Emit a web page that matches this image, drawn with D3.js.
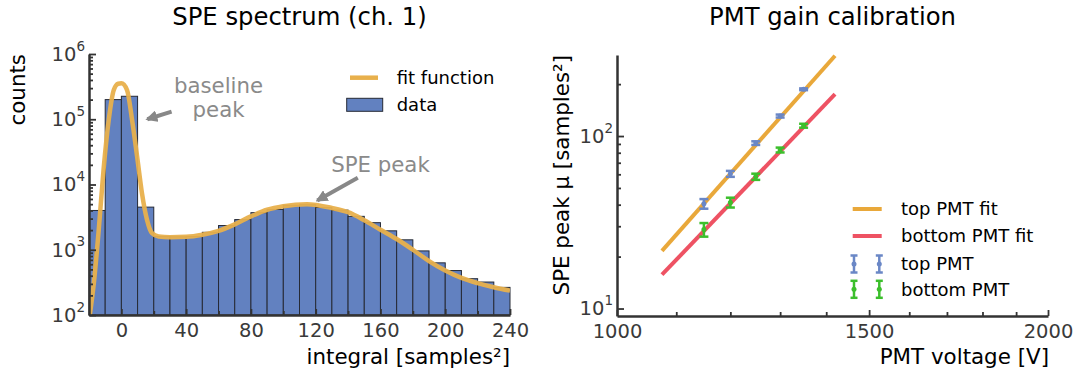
<!DOCTYPE html>
<html>
<head>
<meta charset="utf-8">
<script src="https://cdn.jsdelivr.net/npm/d3@7"></script>
<style>
body { margin: 0; background: #fff; }
text { font-family: "DejaVu Sans", sans-serif; }
</style>
</head>
<body>
<svg id="chart" width="1078" height="379"></svg>
<script>
// ---- left panel: SPE spectrum ----
const binWidth = 10;
const binStart = [-20, -10, 0, 10, 20, 30, 40, 50, 60, 70, 80, 90, 100, 110, 120, 130,
                  140, 150, 160, 170, 180, 190, 200, 210, 220, 230];
const binCounts = [4000, 200000, 225000, 4500, 1600, 1580, 1600, 1850, 2350, 2900, 3700, 4150,
                   4800, 4900, 4450, 4050, 3250, 2600, 1950, 1420, 960, 630, 480, 360, 320, 265];

const fitX = [-19.5, -17, -14, -11, -7.8, -4.7, -2, 0, 3.5, 6.6, 9.7, 12.7, 15.8, 18.9, 23, 30,
              40, 50, 60, 70, 80, 90, 100, 114.6, 130, 140, 150, 160, 170, 180, 190, 200, 210,
              220, 230, 240];
const fitY = [100, 310, 2000, 17000, 98000, 280000, 350000, 355000, 280000, 98000, 27000, 7400,
              2900, 1800, 1600, 1560, 1580, 1700, 1950, 2450, 3250, 4100, 4650, 5000, 4370, 3760,
              2830, 2030, 1460, 1000, 670, 480, 370, 308, 266, 236];

const xTicksL = [0, 40, 80, 120, 160, 200, 240];
const xMinorL = [20, 60, 100, 140, 180, 220];
const yTicksL = [1e2, 1e3, 1e4, 1e5, 1e6];

// annotations in data units
const notes = [
  {lines: ["baseline", "peak"], x: 60, y: 2.5e5},
  {lines: ["SPE peak"], x: 160, y: 1.55e4}
];
const arrows = [
  {x1: 31, y1: 1.31e5, x2: 16, y2: 1.0e5},
  {x1: 146, y1: 1.27e4, x2: 121, y2: 5700}
];

// ---- right panel: PMT gain ----
const voltage = [1150, 1200, 1250, 1300, 1350];
const topMu = [40.5, 60.4, 91, 130.6, 186.7];
const topErr = [2.6, 2.4, 2.2, 2.6, 2.2];
const botMu = [28.7, 41.2, 58.1, 83, 114.8];
const botErr = [2.6, 2.7, 2.4, 2.7, 3.0];
const fitV = [1075, 1420];
const topFit = [21.6, 292];
const botFit = [15.7, 175];

const xTicksR = [1000, 1500, 2000];
const xMinorR = [1100, 1200, 1300, 1400, 1600, 1700, 1800, 1900];
const yTicksR = [10, 100];

const barColor = "#6281c0";
const fitOrange = "#e8b04c";
const axisCol = "#333";
const tickFont = "19.5px";
const labelFont = "21.4px";

const svg = d3.select("#chart");

// scales
const xL = d3.scaleLinear().domain([-20, 240]).range([89, 510]);
const yL = d3.scaleLog().domain([100, 1e6]).range([315, 54]);
const xR = d3.scaleLog().domain([1000, 2000]).range([617, 1048]);
const yR = d3.scaleLog().domain([9.05, 295]).range([316, 55]);

function styleAxis(g) {
  g.select(".domain").attr("stroke", axisCol).attr("stroke-width", 2.5);
  g.selectAll(".tick line").attr("stroke", axisCol).attr("stroke-width", 1.8);
  g.selectAll(".tick text").attr("fill", "#3a3a3a").style("font-size", tickFont)
    .style("font-family", "DejaVu Sans");
}

function powerLabels(g) {
  g.selectAll(".tick text").each(function(d) {
    const t = d3.select(this).text("");
    t.append("tspan").text("10");
    t.append("tspan").text(Math.round(Math.log10(d)))
      .style("font-size", "13.5px").attr("dy", "-0.75em");
  });
}

// ---------- left panel ----------
const left = svg.append("g");

left.append("clipPath").attr("id", "clipL")
  .append("rect").attr("x", 89).attr("y", 54).attr("width", 421).attr("height", 261);

left.append("g").selectAll("rect")
  .data(binStart.map((s, i) => ({s: s, c: binCounts[i]})))
  .join("rect")
  .attr("x", d => xL(d.s))
  .attr("y", d => yL(d.c))
  .attr("width", d => xL(d.s + binWidth) - xL(d.s))
  .attr("height", d => yL.range()[0] - yL(d.c))
  .attr("fill", barColor)
  .attr("stroke", "#262a35")
  .attr("stroke-width", 1);

const fitLine = d3.line()
  .x(d => xL(d[0]))
  .y(d => yL(d[1]))
  .curve(d3.curveMonotoneX);

left.append("path")
  .datum(fitX.map((x, i) => [x, fitY[i]]))
  .attr("clip-path", "url(#clipL)")
  .attr("d", fitLine)
  .attr("fill", "none")
  .attr("stroke", fitOrange)
  .attr("stroke-width", 4.5)
  .attr("stroke-opacity", 0.95);

// axes
const gxL = left.append("g").attr("transform", "translate(0,315)")
  .call(d3.axisBottom(xL).tickValues(xTicksL).tickSizeInner(-6).tickSizeOuter(0).tickPadding(8));
left.append("g").attr("transform", "translate(0,315)")
  .call(d3.axisBottom(xL).tickValues(xMinorL).tickSize(-4).tickFormat(""))
  .call(g => g.select(".domain").remove())
  .call(styleAxis);
gxL.call(styleAxis);

const gyL = left.append("g").attr("transform", "translate(89,0)")
  .call(d3.axisLeft(yL).tickValues(yTicksL).tickSizeInner(-7).tickSizeOuter(0).tickPadding(4));
gyL.call(styleAxis).call(powerLabels);
left.append("g").attr("transform", "translate(89,0)")
  .call(d3.axisLeft(yL).tickValues(yL.ticks().filter(v => !yTicksL.includes(v))).tickSize(-4).tickFormat(""))
  .call(g => g.select(".domain").remove())
  .call(styleAxis);

// titles and labels
left.append("text").attr("x", 299.5).attr("y", 25).attr("text-anchor", "middle")
  .style("font-size", "24.3px").text("SPE spectrum (ch. 1)");
left.append("text").attr("x", 510).attr("y", 363.5).attr("text-anchor", "end")
  .style("font-size", labelFont).text("integral [samples²]");
left.append("text").attr("transform", "translate(25,54) rotate(-90)").attr("text-anchor", "end")
  .style("font-size", labelFont).text("counts");

// annotations
const defs = svg.append("defs");
defs.append("marker").attr("id", "head").attr("markerUnits", "userSpaceOnUse")
  .attr("viewBox", "0 0 12 12").attr("refX", 10).attr("refY", 6)
  .attr("markerWidth", 12).attr("markerHeight", 12).attr("orient", "auto")
  .append("path").attr("d", "M0,0 L12,6 L0,12 Z").attr("fill", "#888");

left.selectAll(".arrow").data(arrows).join("line")
  .attr("class", "arrow")
  .attr("x1", d => xL(d.x1)).attr("y1", d => yL(d.y1))
  .attr("x2", d => xL(d.x2)).attr("y2", d => yL(d.y2))
  .attr("stroke", "#888").attr("stroke-width", 4)
  .attr("marker-end", "url(#head)");

left.selectAll(".note").data(notes).join("text")
  .attr("class", "note")
  .attr("text-anchor", "middle")
  .attr("fill", "#8a8a8a")
  .style("font-size", "21.3px")
  .each(function(d) {
    const t = d3.select(this);
    d.lines.forEach((ln, i) => {
      t.append("tspan").attr("x", xL(d.x)).attr("y", yL(d.y) + i * 23.3).text(ln);
    });
  });

// legend
const legL = left.append("g");
legL.append("line").attr("x1", 350).attr("x2", 378).attr("y1", 77.7).attr("y2", 77.7)
  .attr("stroke", fitOrange).attr("stroke-width", 4.5);
legL.append("text").attr("x", 396.7).attr("y", 77.7).attr("dy", "0.35em")
  .style("font-size", "18px").text("fit function");
legL.append("rect").attr("x", 346.7).attr("y", 98.3).attr("width", 36).attr("height", 13)
  .attr("fill", barColor).attr("stroke", "#262a35").attr("stroke-width", 1);
legL.append("text").attr("x", 396.7).attr("y", 104.7).attr("dy", "0.35em")
  .style("font-size", "18px").text("data");

// ---------- right panel ----------
const right = svg.append("g");
const topCol = "#6a87c6", botCol = "#3cbf2c";
const lineOrange = "#e9a83a", lineRed = "#ee5263";

const gLine = d3.line().x(d => xR(d[0])).y(d => yR(d[1]));
right.append("path").datum(fitV.map((v, i) => [v, topFit[i]]))
  .attr("d", gLine).attr("fill", "none").attr("stroke", lineOrange).attr("stroke-width", 4);
right.append("path").datum(fitV.map((v, i) => [v, botFit[i]]))
  .attr("d", gLine).attr("fill", "none").attr("stroke", lineRed).attr("stroke-width", 4);

function errorBars(mu, err, col) {
  const g = right.append("g");
  const d = voltage.map((v, i) => ({v: v, m: mu[i], e: err[i]}));
  g.selectAll(".eb").data(d).join("line")
    .attr("x1", p => xR(p.v)).attr("x2", p => xR(p.v))
    .attr("y1", p => yR(p.m - p.e)).attr("y2", p => yR(p.m + p.e))
    .attr("stroke", col).attr("stroke-width", 2.5);
  g.selectAll(".capTop").data(d).join("line")
    .attr("x1", p => xR(p.v) - 4.5).attr("x2", p => xR(p.v) + 4.5)
    .attr("y1", p => yR(p.m + p.e)).attr("y2", p => yR(p.m + p.e))
    .attr("stroke", col).attr("stroke-width", 2.5);
  g.selectAll(".capBot").data(d).join("line")
    .attr("x1", p => xR(p.v) - 4.5).attr("x2", p => xR(p.v) + 4.5)
    .attr("y1", p => yR(p.m - p.e)).attr("y2", p => yR(p.m - p.e))
    .attr("stroke", col).attr("stroke-width", 2.5);
  g.selectAll("circle").data(d).join("circle")
    .attr("cx", p => xR(p.v)).attr("cy", p => yR(p.m)).attr("r", 2.5).attr("fill", col);
}
errorBars(topMu, topErr, topCol);
errorBars(botMu, botErr, botCol);

// axes
const gxR = right.append("g").attr("transform", "translate(0,316)")
  .call(d3.axisBottom(xR).tickValues(xTicksR).tickFormat(d3.format("d"))
    .tickSizeInner(-6).tickSizeOuter(0).tickPadding(8));
gxR.call(styleAxis);
right.append("g").attr("transform", "translate(0,316)")
  .call(d3.axisBottom(xR).tickValues(xMinorR).tickSize(-4).tickFormat(""))
  .call(g => g.select(".domain").remove())
  .call(styleAxis);

const gyR = right.append("g").attr("transform", "translate(617,0)")
  .call(d3.axisLeft(yR).tickValues(yTicksR).tickSizeInner(-7).tickSizeOuter(0).tickPadding(4));
gyR.call(styleAxis).call(powerLabels);
right.append("g").attr("transform", "translate(617,0)")
  .call(d3.axisLeft(yR).tickValues(yR.ticks().filter(v => !yTicksR.includes(v))).tickSize(-4).tickFormat(""))
  .call(g => g.select(".domain").remove())
  .call(styleAxis);

right.append("text").attr("x", 832.5).attr("y", 25).attr("text-anchor", "middle")
  .style("font-size", "24.3px").text("PMT gain calibration");
right.append("text").attr("x", 1049).attr("y", 363.5).attr("text-anchor", "end")
  .style("font-size", labelFont).text("PMT voltage [V]");
right.append("text").attr("transform", "translate(569,55) rotate(-90)").attr("text-anchor", "end")
  .style("font-size", labelFont).text("SPE peak μ [samples²]");

// legend
const legR = right.append("g");
const legItems = [
  {label: "top PMT fit", type: "line", col: lineOrange, y: 209},
  {label: "bottom PMT fit", type: "line", col: lineRed, y: 236},
  {label: "top PMT", type: "err", col: topCol, y: 264},
  {label: "bottom PMT", type: "err", col: botCol, y: 289.3}
];
legItems.forEach(it => {
  if (it.type === "line") {
    legR.append("line").attr("x1", 852.7).attr("x2", 881.7).attr("y1", it.y).attr("y2", it.y)
      .attr("stroke", it.col).attr("stroke-width", 4);
  } else {
    [854, 879.3].forEach(x => {
      legR.append("line").attr("x1", x).attr("x2", x).attr("y1", it.y - 8.5).attr("y2", it.y + 8.5)
        .attr("stroke", it.col).attr("stroke-width", 2.5);
      [-8.5, 8.5].forEach(o => legR.append("line").attr("x1", x - 3.5).attr("x2", x + 3.5)
        .attr("y1", it.y + o).attr("y2", it.y + o).attr("stroke", it.col).attr("stroke-width", 2.5));
      legR.append("circle").attr("cx", x).attr("cy", it.y).attr("r", 2.5).attr("fill", it.col);
    });
  }
  legR.append("text").attr("x", 901).attr("y", it.y).attr("dy", "0.35em")
    .style("font-size", "18px").text(it.label);
});
</script>
</body>
</html>
